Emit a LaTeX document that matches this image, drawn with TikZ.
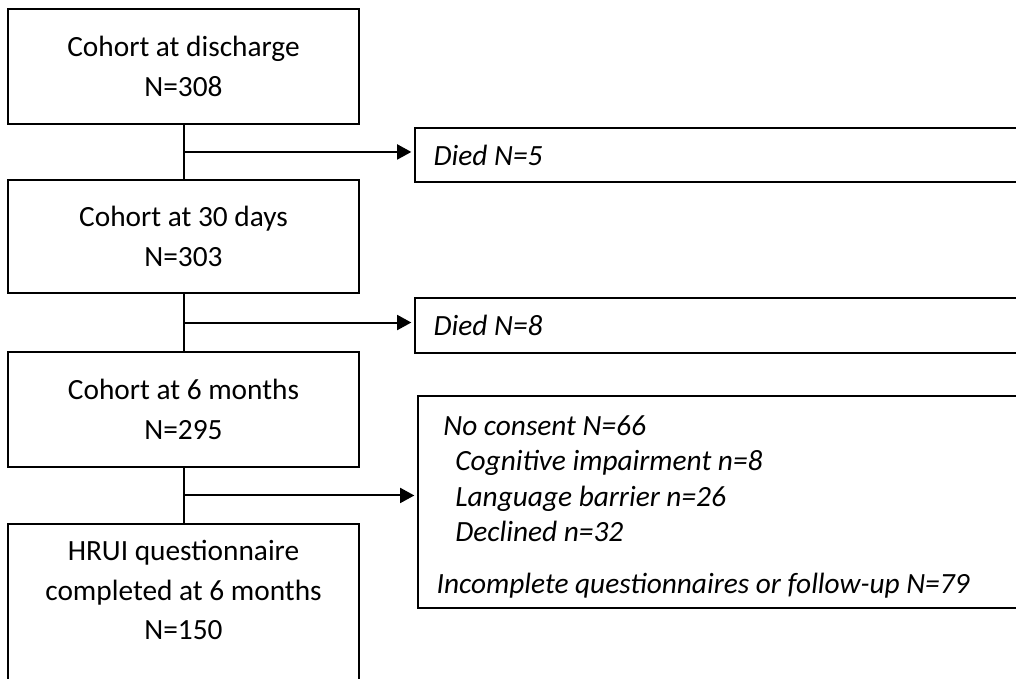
\documentclass[tikz,border=0pt]{standalone}
\usepackage{fontspec}
\setmainfont{Carlito}
\usetikzlibrary{arrows.meta,calc}
\tikzset{%
  mainbox/.style={%
    draw, line width=0.75pt, minimum width=131.6pt, align=center,
    font=\fontsize{11}{14.8}\selectfont},
  boxtext/.style={%
    align=center, font=\fontsize{11}{14.8}\selectfont},
  sidebox/.style={%
    draw, line width=0.75pt, anchor=north west, minimum width=232.5pt,
    text width=218.5pt, inner xsep=6.5pt, align=flush left,
    font=\fontsize{11}{13.3}\selectfont\itshape},
  flow/.style={line width=0.75pt},
  flowarrow/.style={%
    line width=0.75pt, -{Triangle[length=5.3pt,width=5.6pt]}, shorten >=1pt}
}

\begin{document}
\begin{tikzpicture}[x=0.375pt, y=-0.375pt]
    \useasboundingbox (0,0) rectangle (1016,679);
    \clip (0,0) rectangle (1016,679);

    \node (b1) [mainbox, minimum height=43.1pt] at (183.5,66.5)
      {Cohort at discharge\\N=308};
    \node (b2) [mainbox, minimum height=42.4pt] at (183.5,236.5)
      {Cohort at 30 days\\N=303};
    \node (b3) [mainbox, minimum height=43.1pt] at (183.5,409.5)
      {Cohort at 6 months\\N=295};
    \node (b4) [mainbox, anchor=north, minimum height=67.5pt] at (183.5,523) {};
    \node (b4text) [boxtext] at (183.5,590)
      {HRUI questionnaire\\completed at 6 months\\N=150};

    \node (d1) [sidebox, minimum height=20.25pt] at (414,127) {Died N=5};
    \node (d2) [sidebox, minimum height=20.6pt] at (414,297) {Died N=8};
    \node (s3) [sidebox, minimum height=79.5pt] at (417,395)
      {\rule{0pt}{11pt}\hspace{2.5pt}No consent N=66\\
       \hspace{7pt}Cognitive impairment n=8\\
       \hspace{7pt}Language barrier n=26\\
       \hspace{7pt}Declined n=32\\[6pt]
       Incomplete questionnaires or follow-up N=79};

    \coordinate (j1) at ($(b1.south)!0.5!(b2.north)$);
    \coordinate (j2) at ($(b2.south)!0.5!(b3.north)$);
    \coordinate (j3) at ($(b3.south)!0.5!(b4.north)$);

    \draw [flow] (b1) -- (b2);
    \draw [flow] (b2) -- (b3);
    \draw [flow] (b3.south) -- (b4.north);
    \draw [flowarrow] (j1) -- (j1 -| d1.west);
    \draw [flowarrow] (j2) -- (j2 -| d2.west);
    \draw [flowarrow] (j3) -- (j3 -| s3.west);
\end{tikzpicture}
\end{document}
